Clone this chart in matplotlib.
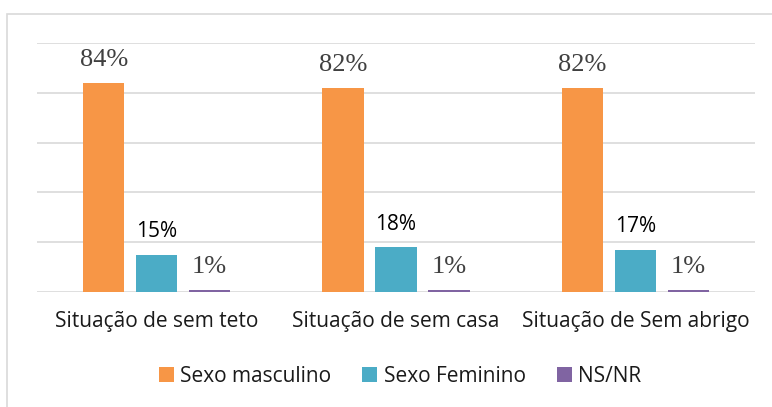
import matplotlib
matplotlib.use("Agg")
import matplotlib.pyplot as plt
from matplotlib.patches import Rectangle
import numpy as np

categories = ["Situação de sem teto", "Situação de sem casa", "Situação de Sem abrigo"]
series_names = ["Sexo masculino", "Sexo Feminino", "NS/NR"]
masculino = [84, 82, 82]
feminino = [15, 18, 17]
nsnr = [1, 1, 1]
colors = ["#F79646", "#4BACC6", "#8064A2"]
# label font style per series (as in the original: serif, sans, serif)
label_serif = [True, False, True]

fig = plt.figure(figsize=(7.72, 4.07), dpi=100)
# outer light-gray frame
fig.patches.append(Rectangle((7/772, -0.01), 1.0, 1 - 14/407 + 0.01, transform=fig.transFigure,
                             fill=False, edgecolor="#D9D9D9", linewidth=1.2))

ax = fig.add_axes([37/772, (407-292)/407, (755-37)/772, (292-43)/407])
ax.set_xlim(-0.5, 2.5)
ax.set_ylim(0, 100)

x = np.arange(len(categories))
w = 0.172
off = 0.2215
data = [masculino, feminino, nsnr]
for i, (vals, c) in enumerate(zip(data, colors)):
    xs = x + (i - 1) * off
    ax.bar(xs, vals, width=w, color=c, label=series_names[i], zorder=3)
    for xi, v in zip(xs, vals):
        if label_serif[i]:
            ax.annotate(f"{v}%", (xi, v), xytext=(0, 12), textcoords="offset points",
                        ha="center", va="baseline", fontsize=19, color="#404040",
                        family="Liberation Serif")
        else:
            ax.annotate(f"{v}%", (xi, v), xytext=(0, 12.5), textcoords="offset points",
                        ha="center", va="baseline", fontsize=15, color="#000000",
                        family="Open Sans")

ax.set_yticks([0, 20, 40, 60, 80, 100])
ax.yaxis.grid(True, color="#D9D9D9", linewidth=1.2, zorder=0)
ax.tick_params(axis="y", left=False, labelleft=False)
ax.tick_params(axis="x", bottom=False, pad=10)
ax.set_xticks(x)
ax.set_xticklabels(categories, fontsize=15, color="#1a1a1a", family="Open Sans")
for s in ax.spines.values():
    s.set_visible(False)

leg = fig.legend(loc="center", bbox_to_anchor=(400/772, 1 - 376/407), ncol=3, frameon=False,
                 prop={"family": "Open Sans", "size": 15}, handlelength=0.72, handleheight=0.72,
                 handletextpad=0.3, columnspacing=1.5)
for t in leg.get_texts():
    t.set_color("#1a1a1a")

fig.savefig("out.png", dpi=100)
